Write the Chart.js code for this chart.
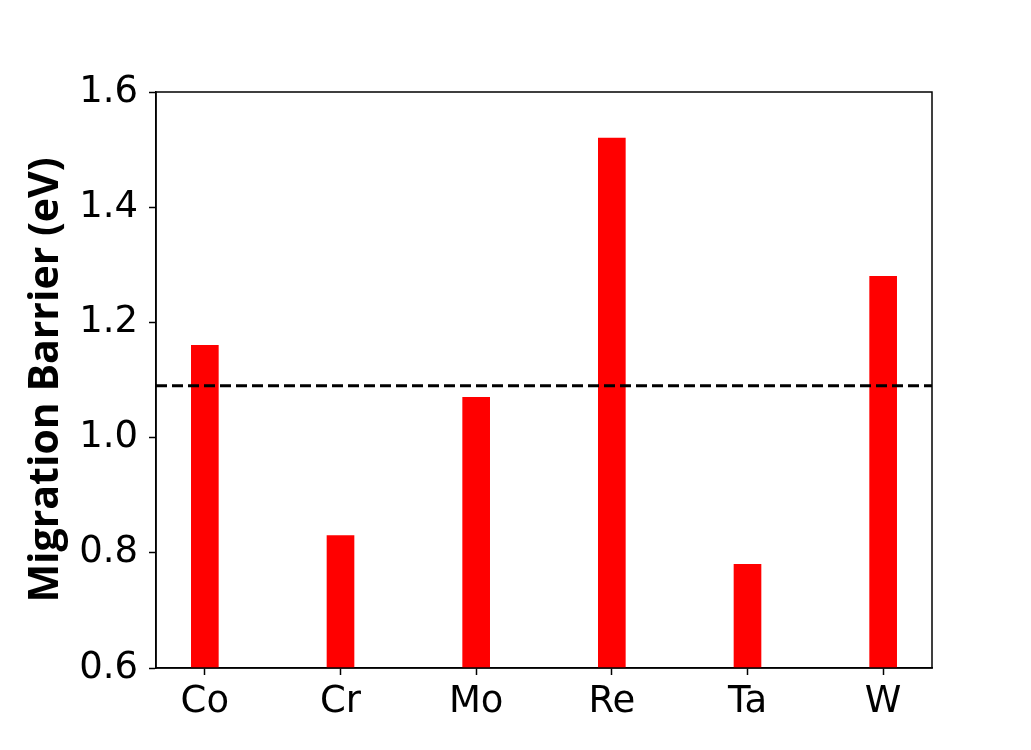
<!DOCTYPE html>
<html>
<head>
<meta charset="utf-8">
<script src="https://cdn.jsdelivr.net/npm/chart.js@4"></script>
<style>
  html, body { margin: 0; padding: 0; background: #fff; }
  #wrap { width: 1031px; height: 750px; }
</style>
</head>
<body>
<div id="wrap"><canvas id="barrierChart"></canvas></div>
<script>
const elements = ['Co', 'Cr', 'Mo', 'Re', 'Ta', 'W'];
const barriers = [1.16, 0.83, 1.07, 1.52, 0.78, 1.28];
const referenceBarrier = 1.09;
const yTicks = [0.6, 0.8, 1.0, 1.2, 1.4, 1.6];
const xRange = [-0.36, 5.36];
const yTitle = 'Migration Barrier (eV)';

// pick a narrow bold face for the axis title and size it to the original length
function titleFont(targetWidth) {
    const m = document.createElement('canvas').getContext('2d');
    let family = 'Liberation Sans Narrow';
    m.font = 'bold 100px "' + family + '", monospace';
    const w1 = m.measureText(yTitle).width;
    m.font = 'bold 100px monospace';
    if (Math.abs(m.measureText(yTitle).width - w1) < 1) family = 'Open Sans';
    m.font = 'bold 100px "' + family + '"';
    const size = Math.round(100 * targetWidth / m.measureText(yTitle).width);
    return { family, size, weight: 'bold' };
}

const frame = {
    id: 'frame',
    afterDraw(chart) {
        const { ctx, chartArea: a } = chart;
        ctx.save();
        ctx.strokeStyle = '#000';
        ctx.lineWidth = 1.5;
        ctx.strokeRect(a.left, a.top, a.right - a.left, a.bottom - a.top);
        ctx.restore();
    }
};

const ctx = document.getElementById('barrierChart').getContext('2d');
new Chart(ctx, {
    data: {
        datasets: [{
            type: 'line',
            data: xRange.map(x => ({ x, y: referenceBarrier })),
            borderColor: '#000',
            borderWidth: 3,
            borderDash: [11, 5],
            pointRadius: 0,
            order: 0
        }, {
            type: 'bar',
            data: barriers.map((v, i) => ({ x: i, y: v })),
            backgroundColor: '#ff0000',
            barThickness: 27,
            order: 1
        }]
    },
    options: {
        responsive: true,
        maintainAspectRatio: false,
        animation: false,
        layout: { padding: { top: 92, right: 99, bottom: 0, left: 0 } },
        plugins: { legend: { display: false }, tooltip: { enabled: false } },
        scales: {
            x: {
                type: 'linear',
                offset: false,
                min: xRange[0],
                max: xRange[1],
                afterBuildTicks: s => { s.ticks = elements.map((_, i) => ({ value: i })); },
                afterFit: s => { s.height = 82; },
                grid: { offset: false, drawOnChartArea: false, tickLength: 7, tickColor: '#000', tickWidth: 1.5 },
                border: { color: '#000', width: 1.5 },
                ticks: {
                    color: '#000',
                    padding: 5,
                    font: { family: 'DejaVu Sans', size: 37 },
                    callback: v => elements[v]
                }
            },
            y: {
                min: 0.6,
                max: 1.6,
                afterBuildTicks: s => { s.ticks = yTicks.map(v => ({ value: v })); },
                afterFit: s => { s.width = 156; },
                grid: { drawOnChartArea: false, tickLength: 7, tickColor: '#000', tickWidth: 1.5 },
                border: { color: '#000', width: 1.5 },
                ticks: {
                    color: '#000',
                    padding: 11,
                    font: { family: 'DejaVu Sans', size: 37 },
                    callback: v => v.toFixed(1)
                },
                title: {
                    display: true,
                    text: yTitle,
                    color: '#000',
                    padding: { top: 22, bottom: 0 },
                    font: titleFont(447)
                }
            }
        }
    },
    plugins: [frame]
});
</script>
</body>
</html>
